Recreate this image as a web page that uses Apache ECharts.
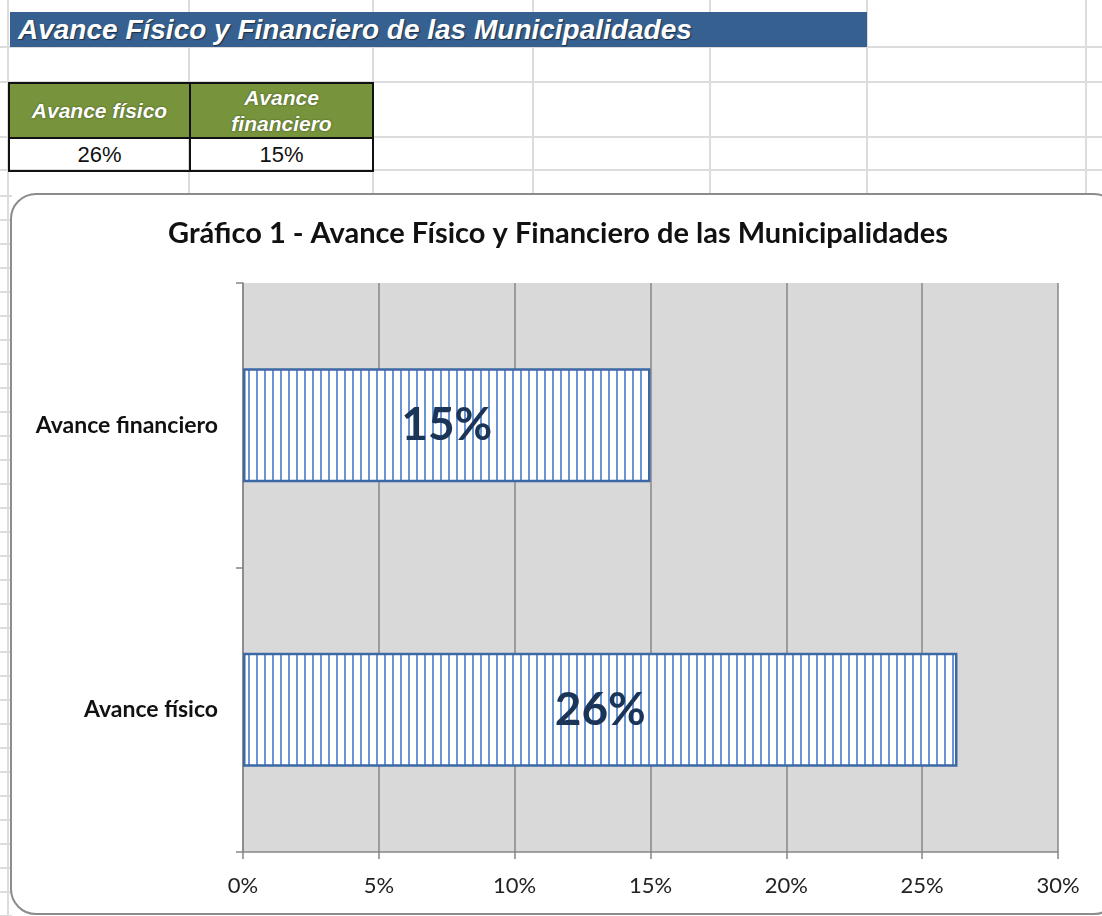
<!DOCTYPE html>
<html>
<head>
<meta charset="utf-8">
<script src="https://cdn.jsdelivr.net/npm/echarts@6/dist/echarts.min.js"></script>
<style>
  html, body { margin: 0; padding: 0; width: 1102px; height: 916px; overflow: hidden; background: #ffffff; }
  .sheet { position: absolute; left: 0; top: 0; width: 1102px; height: 916px; }
  .hline { position: absolute; left: 0; width: 1102px; height: 2px; background: #dcdcdc; }
  .vline { position: absolute; width: 2px; background: #dcdcdc; }
  .titlebar {
    position: absolute; left: 10px; top: 12px; width: 857px; height: 35px;
    background: #36608f; color: #ffffff;
    font: italic bold 28px "Liberation Sans", Arial, sans-serif;
    line-height: 35px; padding-left: 8px; box-sizing: border-box;
    text-shadow: 1px 1px 1px #1c2f48; white-space: nowrap;
  }
  table.datos {
    position: absolute; left: 8px; top: 82px; border-collapse: collapse;
    font-family: "Liberation Sans", Arial, sans-serif;
  }
  table.datos td { border: 2px solid #111; text-align: center; padding: 0 10px; box-sizing: border-box; }
  table.datos tr.head td {
    background: #77933c; color: #ffffff; height: 55px;
    font: italic bold 21px "Liberation Sans", Arial, sans-serif; line-height: 26px;
    text-shadow: 0 0 2px #3d4d1c;
  }
  table.datos tr.vals td { height: 33px; font-size: 22px; color: #111; }
  .chartbox {
    position: absolute; left: 10px; top: 193px; width: 1110px; height: 722px;
    border: 2px solid #8c8c8c; border-radius: 26px; background: #ffffff; box-sizing: border-box;
  }
  #chart { position: absolute; left: 0; top: 0; width: 1102px; height: 916px; }
</style>
</head>
<body>
<div class="sheet" id="sheet"></div>
<div class="titlebar">Avance Físico y Financiero de las Municipalidades</div>
<table class="datos" id="datos"></table>
<div class="chartbox"></div>
<div id="chart"></div>

<script>
// datos del gráfico
const categorias = ['Avance físico', 'Avance financiero']
const valores = [0.263, 0.150]
const ejeMin = 0
const ejeMax = 0.30
const ejeIntervalo = 0.05

// cuadrícula de la hoja (decoración)
const filasHoja = [47, 82, 137, 170]
const colsHoja = [189, 373, 533, 710, 867, 1086]
const sheet = document.getElementById('sheet')
filasHoja.forEach(y => {
  const d = document.createElement('div')
  d.className = 'hline'
  d.style.top = (y - 1) + 'px'
  sheet.appendChild(d)
})
for (let y = 195; y < 916; y += 24) {
  const d = document.createElement('div')
  d.className = 'hline'
  d.style.top = y + 'px'
  d.style.width = '12px'
  sheet.appendChild(d)
}
colsHoja.forEach(x => {
  const d = document.createElement('div')
  d.className = 'vline'
  d.style.left = (x - 1) + 'px'
  d.style.top = '0px'
  d.style.height = '193px'
  sheet.appendChild(d)
})
const v0 = document.createElement('div')
v0.className = 'vline'
v0.style.left = '7px'
v0.style.top = '0px'
v0.style.height = '916px'
sheet.appendChild(v0)

// tabla resumen
const pct = v => Math.round(v * 100) + '%'
const tabla = document.getElementById('datos')
const trH = document.createElement('tr')
trH.className = 'head'
const trV = document.createElement('tr')
trV.className = 'vals'
const anchos = [181, 183]
categorias.forEach((c, i) => {
  const th = document.createElement('td')
  th.textContent = c
  th.style.width = anchos[i] + 'px'
  trH.appendChild(th)
  const td = document.createElement('td')
  td.textContent = pct(valores[i])
  trV.appendChild(td)
})
tabla.appendChild(trH)
tabla.appendChild(trV)

// trama de rayas verticales para las barras
const trama = document.createElement('canvas')
trama.width = 8
trama.height = 8
const ctx = trama.getContext('2d')
ctx.fillStyle = '#ffffff'
ctx.fillRect(0, 0, 8, 8)
ctx.fillStyle = '#6a94d2'
ctx.fillRect(0, 0, 2, 8)

const myChart = echarts.init(document.getElementById('chart'))

const options = {
  backgroundColor: 'transparent',
  animation: false,
  graphic: [
    {
      type: 'text',
      x: 558,
      y: 234,
      style: {
        text: 'Gráfico 1 - Avance Físico y Financiero de las Municipalidades',
        font: 'bold 29px Lato, "Open Sans", sans-serif',
        fill: '#111111',
        textAlign: 'center',
        textVerticalAlign: 'middle'
      }
    }
  ],
  grid: {
    left: 243,
    right: 44,
    top: 283,
    bottom: 64,
    show: true,
    backgroundColor: '#d9d9d9',
    borderWidth: 0
  },
  xAxis: {
    type: 'value',
    min: ejeMin,
    max: ejeMax,
    interval: ejeIntervalo,
    axisLine: { show: true, lineStyle: { color: '#878787', width: 1.5 } },
    axisTick: { show: true, length: 7, lineStyle: { color: '#878787', width: 1.5 } },
    splitLine: { show: true, lineStyle: { color: '#878787', width: 1.5 } },
    axisLabel: {
      margin: 23,
      color: '#222222',
      fontSize: 22,
      fontFamily: 'Lato, "Open Sans", sans-serif',
      formatter: v => Math.round(v * 100) + '%'
    }
  },
  yAxis: {
    type: 'category',
    data: categorias,
    axisLine: { show: true, lineStyle: { color: '#878787', width: 1.5 } },
    axisTick: { show: true, length: 7, lineStyle: { color: '#878787', width: 1.5 } },
    axisLabel: {
      margin: 25,
      color: '#111111',
      fontSize: 23,
      fontWeight: 'bold',
      fontFamily: 'Lato, "Open Sans", sans-serif'
    }
  },
  series: [
    {
      type: 'bar',
      data: valores,
      barWidth: '40%',
      itemStyle: {
        color: { image: trama, repeat: 'repeat' },
        borderColor: '#3c68a6',
        borderWidth: 2.5
      },
      label: {
        show: true,
        position: 'inside',
        color: '#1b3558',
        fontSize: 46,
        fontWeight: 'bold',
        fontFamily: 'Lato, "Open Sans", sans-serif',
        formatter: p => pct(p.value)
      }
    }
  ]
}
myChart.setOption(options)
</script>
</body>
</html>
